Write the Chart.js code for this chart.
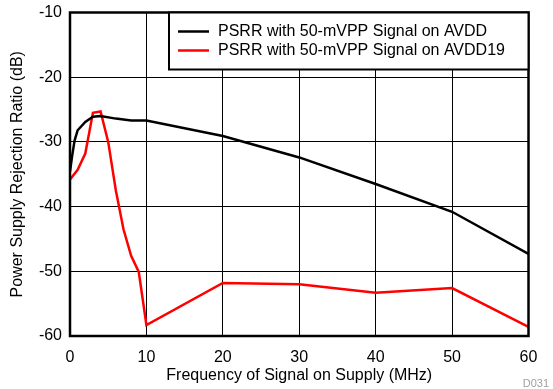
<!DOCTYPE html>
<html>
<head>
<meta charset="utf-8">
<script src="https://cdn.jsdelivr.net/npm/chart.js@4/dist/chart.umd.min.js"></script>
<style>
html,body{margin:0;padding:0;background:#fff;}
#wrap{width:553px;height:389px;position:relative;}
</style>
</head>
<body>
<div id="wrap"><canvas id="c" width="553" height="389"></canvas></div>
<script>
const freqAvdd = [0, 0.3, 0.6, 1, 2, 3, 4, 6, 8, 10, 20, 30, 40, 50, 60];
const psrrAvdd = [-34.6, -32, -29.8, -28.2, -26.9, -26.1, -26.0, -26.4, -26.7, -26.7, -29.1, -32.4, -36.5, -40.8, -47.3];
const freqAvdd19 = [0, 1, 2, 3, 4, 5, 6, 7, 8, 9, 10, 20, 30, 40, 50, 60];
const psrrAvdd19 = [-35.8, -34.3, -31.8, -25.5, -25.3, -30, -37.5, -43.5, -47.6, -50.1, -58.3, -51.8, -52.0, -53.3, -52.6, -58.6];
const xTicks = [0, 10, 20, 30, 40, 50, 60];
const yTicks = [-10, -20, -30, -40, -50, -60];
const seriesLabels = ['PSRR with 50-mVPP Signal on AVDD', 'PSRR with 50-mVPP Signal on AVDD19'];
const xTitle = 'Frequency of Signal on Supply (MHz)';
const yTitle = 'Power Supply Rejection Ratio (dB)';
const docId = 'D031';

const FONT = 'Liberation Sans, Arial, sans-serif';

const toPts = (xs, ys) => xs.map((x, i) => ({x: x, y: ys[i]}));

const frameAndLegend = {
  id: 'frameAndLegend',
  afterDatasetsDraw(chart) {
    const ctx = chart.ctx;
    const a = chart.chartArea;
    ctx.save();
    ctx.strokeStyle = '#000';
    ctx.lineWidth = 2.5;
    ctx.strokeRect(a.left, a.top, a.right - a.left, a.bottom - a.top);
    // legend box
    const bx = 169, by = a.top, bw = a.right - 169, bh = 57;
    ctx.fillStyle = '#fff';
    ctx.fillRect(bx, by, bw, bh);
    ctx.lineWidth = 2;
    ctx.strokeRect(bx, by, bw, bh);
    ctx.font = '16px ' + FONT;
    ctx.textBaseline = 'middle';
    chart.data.datasets.forEach((ds, i) => {
      const yy = by + 19 + i * 19;
      ctx.strokeStyle = ds.borderColor;
      ctx.lineWidth = 2.5;
      ctx.beginPath();
      ctx.moveTo(178, yy);
      ctx.lineTo(209, yy);
      ctx.stroke();
      ctx.fillStyle = '#000';
      ctx.textAlign = 'left';
      ctx.fillText(ds.label, 218, yy);
    });
    ctx.font = '11px ' + FONT;
    ctx.fillStyle = '#a0a0a0';
    ctx.textAlign = 'right';
    ctx.fillText(docId, 549, 384);
    ctx.restore();
  }
};

new Chart(document.getElementById('c'), {
  type: 'line',
  data: {
    datasets: [
      {label: seriesLabels[0], data: toPts(freqAvdd, psrrAvdd), borderColor: '#000000', borderWidth: 2.5, pointRadius: 0, tension: 0, fill: false},
      {label: seriesLabels[1], data: toPts(freqAvdd19, psrrAvdd19), borderColor: '#ff0000', borderWidth: 2.5, pointRadius: 0, tension: 0, fill: false}
    ]
  },
  options: {
    responsive: false,
    animation: false,
    devicePixelRatio: 1,
    layout: {padding: {left: 0, right: 24.5, top: 12.5, bottom: 0}},
    plugins: {legend: {display: false}, tooltip: {enabled: false}},
    scales: {
      x: {
        type: 'linear', min: 0, max: 60,
        afterBuildTicks: s => { s.ticks = xTicks.map(v => ({value: v})); },
        afterFit: s => { s.height = 53; s.paddingLeft = 0; s.paddingRight = 0; },
        grid: {color: '#000', lineWidth: 1, drawTicks: false},
        border: {display: false},
        ticks: {color: '#000', font: {family: FONT, size: 16}, padding: 12, maxRotation: 0},
        title: {display: true, text: xTitle, color: '#000', font: {family: FONT, size: 16}, padding: {top: 2, bottom: 3.5}}
      },
      y: {
        type: 'linear', min: -60, max: -10,
        afterBuildTicks: s => { s.ticks = yTicks.map(v => ({value: v})); },
        afterFit: s => { s.width = 70; s.paddingTop = 0; s.paddingBottom = 0; },
        grid: {color: '#000', lineWidth: 1, drawTicks: false},
        border: {display: false},
        ticks: {color: '#000', font: {family: FONT, size: 16}, padding: 8},
        title: {display: true, text: yTitle, color: '#000', font: {family: FONT, size: 16}, padding: {top: 8, bottom: 4}}
      }
    }
  },
  plugins: [frameAndLegend]
});
</script>
</body>
</html>
